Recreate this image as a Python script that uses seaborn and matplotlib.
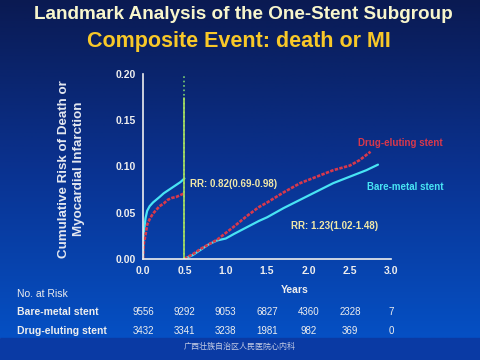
import numpy as np
import pandas as pd
import seaborn as sns
import matplotlib.pyplot as plt
from matplotlib.colors import LinearSegmentedColormap
import matplotlib.transforms as mtransforms

# Cumulative risk curves
bms_t1 = [0.0, 0.005, 0.01, 0.02, 0.03, 0.05, 0.08, 0.12, 0.16, 0.20, 0.25, 0.30, 0.35, 0.40, 0.45, 0.50]
bms_r1 = [0.0, 0.025, 0.029, 0.036, 0.044, 0.052, 0.057, 0.061, 0.064, 0.067, 0.071, 0.074, 0.077, 0.080, 0.083, 0.087]
des_t1 = [0.0, 0.005, 0.01, 0.03, 0.05, 0.08, 0.12, 0.16, 0.20, 0.25, 0.30, 0.35, 0.40, 0.45, 0.50]
des_r1 = [0.0, 0.012, 0.017, 0.026, 0.037, 0.043, 0.049, 0.053, 0.057, 0.060, 0.064, 0.066, 0.067, 0.069, 0.071]

bms_t2 = [0.5, 0.6, 0.7, 0.8, 0.9, 1.0, 1.1, 1.25, 1.4, 1.5, 1.7, 1.9, 2.1, 2.3, 2.5, 2.7, 2.84]
bms_r2 = [0.0, 0.004, 0.010, 0.016, 0.020, 0.022, 0.027, 0.034, 0.041, 0.045, 0.055, 0.064, 0.073, 0.082, 0.089, 0.096, 0.102]
des_t2 = [0.5, 0.6, 0.7, 0.8, 0.9, 1.0, 1.1, 1.25, 1.4, 1.5, 1.7, 1.9, 2.1, 2.3, 2.5, 2.62, 2.75]
des_r2 = [0.0, 0.005, 0.011, 0.016, 0.021, 0.028, 0.035, 0.046, 0.056, 0.061, 0.072, 0.082, 0.089, 0.096, 0.101, 0.107, 0.116]

risk_years = [0.0, 0.5, 1.0, 1.5, 2.0, 2.5, 3.0]
risk_bms = [9556, 9292, 9053, 6827, 4360, 2328, 7]
risk_des = [3432, 3341, 3238, 1981, 982, 369, 0]

cyan = '#48e4f4'
red = '#d8384c'
txt = '#eeeeee'

sns.set_style('white')
plt.rcParams['font.family'] = ['Liberation Sans', 'Noto Sans CJK SC', 'DejaVu Sans']

fig = plt.figure(figsize=(4.8, 3.6), dpi=100)

# background gradient
bg = fig.add_axes([0, 0, 1, 1], zorder=-10)
cmap = LinearSegmentedColormap.from_list('bg', ['#0a1a52', '#0a3290', '#0550c4'])
grad = np.linspace(0, 1, 256).reshape(-1, 1)
bg.imshow(grad, aspect='auto', cmap=cmap, extent=[0, 1, 0.06, 1], origin='upper')
bg.axhspan(0, 0.06, color='#0a3aa4')
bg.set_xlim(0, 1)
bg.set_ylim(0, 1)
bg.axis('off')

ax = fig.add_axes([0.298, 0.281, 0.517, 0.513])
ax.set_facecolor('none')

segs = [
    (bms_t1, bms_r1, cyan, '-', 1.6),
    (bms_t2, bms_r2, cyan, '-', 1.6),
    (des_t1, des_r1, red, (0, (1.3, 0.5)), 1.9),
    (des_t2, des_r2, red, (0, (1.3, 0.5)), 1.9),
]
for t, r, c, ls, lw in segs:
    d = pd.DataFrame({'t': t, 'r': r})
    sns.lineplot(data=d, x='t', y='r', ax=ax, color=c, linestyle=ls, lw=lw,
                 estimator=None, sort=False)

ax.axvline(0.5, ymin=0, ymax=1, color='#7cd070', ls=':', lw=1.2)
ax.axvline(0.5, ymin=0, ymax=0.87, color='#a8e060', ls='-', lw=1.2)

ax.set_xlim(0, 3)
ax.set_ylim(0, 0.2)
ax.set_xticks([0.0, 0.5, 1.0, 1.5, 2.0, 2.5, 3.0])
ax.set_xticklabels(['0.0', '0.5', '1.0', '1.5', '2.0', '2.5', '3.0'])
ax.set_yticks([0.0, 0.05, 0.10, 0.15, 0.20])
ax.set_yticklabels(['0.00', '0.05', '0.10', '0.15', '0.20'])
ax.tick_params(colors=txt, labelsize=7.5, length=3, width=1, direction='out', pad=2)
for lab in ax.get_xticklabels() + ax.get_yticklabels():
    lab.set_fontweight('bold')
    lab.set_color(txt)
for s in ['top', 'right']:
    ax.spines[s].set_visible(False)
for s in ['left', 'bottom']:
    ax.spines[s].set_color(txt)
    ax.spines[s].set_linewidth(1.2)
ax.set_xlabel('')
ax.set_ylabel('')

ax.text(0.57, 0.081, 'RR: 0.82(0.69-0.98)', color='#f0e8a8', fontsize=7, fontweight='bold', va='center')
ax.text(1.79, 0.036, 'RR: 1.23(1.02-1.48)', color='#f0e8a8', fontsize=7, fontweight='bold', va='center')
ax.text(2.6, 0.125, 'Drug-eluting stent', color=red, fontsize=7, fontweight='bold', va='center')
ax.text(2.71, 0.078, 'Bare-metal stent', color=cyan, fontsize=7, fontweight='bold', va='center')

fig.text(0.506, 0.960, 'Landmark Analysis of the One-Stent Subgroup', color='#f8f6cc',
         fontsize=13.6, fontweight='bold', ha='center', va='center')
fig.text(0.497, 0.886, 'Composite Event: death or MI', color='#f8c828',
         fontsize=15.5, fontweight='bold', ha='center', va='center')
fig.text(0.149, 0.53, 'Cumulative Risk of Death or\nMyocardial Infarction', color='#e4e8f0',
         fontsize=9.6, fontweight='bold', ha='center', va='center', rotation=90, linespacing=1.4)
fig.text(0.613, 0.194, 'Years', color=txt, fontsize=7.5, fontweight='bold', ha='center', va='center')

fig.text(0.036, 0.183, 'No. at Risk', color=txt, fontsize=7.5, ha='left', va='center')
fig.text(0.036, 0.133, 'Bare-metal stent', color=txt, fontsize=7.5, fontweight='bold', ha='left', va='center')
fig.text(0.036, 0.080, 'Drug-eluting stent', color=txt, fontsize=7.5, fontweight='bold', ha='left', va='center')
trans = mtransforms.blended_transform_factory(ax.transData, fig.transFigure)
for x, a, b in zip(risk_years, risk_bms, risk_des):
    ax.text(x, 0.133, str(a), color=txt, fontsize=7, ha='center', va='center', transform=trans, clip_on=False)
    ax.text(x, 0.080, str(b), color=txt, fontsize=7, ha='center', va='center', transform=trans, clip_on=False)

fig.text(0.5, 0.038, '广西壮族自治区人民医院心内科', color='#c4cce4', fontsize=5.8,
         ha='center', va='center', family=['Noto Sans CJK SC', 'DejaVu Sans'])

fig.savefig('out.png', dpi=100)
